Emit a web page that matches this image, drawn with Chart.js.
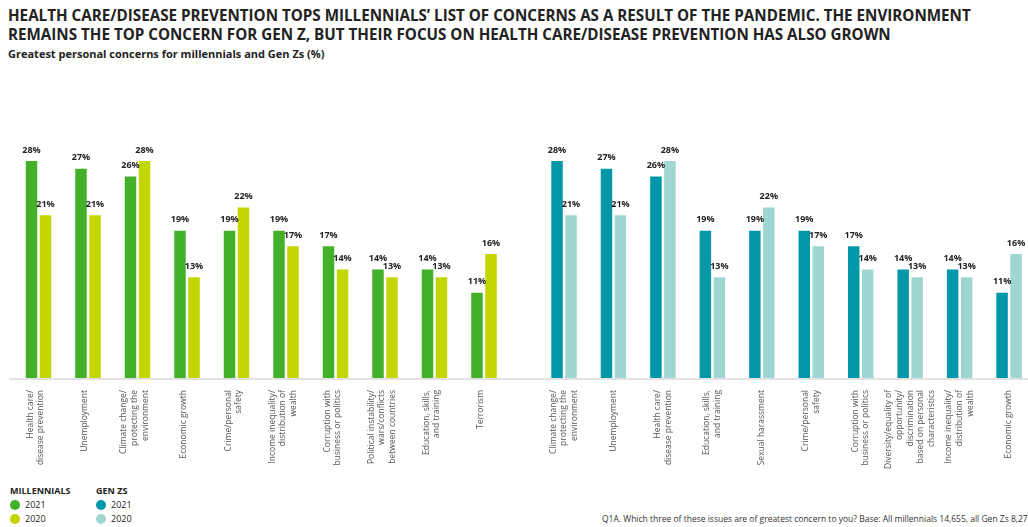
<!DOCTYPE html>
<html>
<head>
<meta charset="utf-8">
<script src="https://cdn.jsdelivr.net/npm/chart.js@4.4.1/dist/chart.umd.min.js"></script>
<style>
  body { margin: 0; width: 1028px; height: 527px; overflow: hidden; background: #fff;
         font-family: "Open Sans", sans-serif; color: #222; position: relative; }
  .title { position: absolute; left: 8px; top: 6px; font-size: 15.2px; font-weight: 700; line-height: 19px; white-space: nowrap; }
  .subtitle { position: absolute; left: 8px; top: 47px; font-size: 11px; font-weight: 700; line-height: 14px; white-space: nowrap; }
  canvas { position: absolute; top: 130px; }
  .lg-head { position: absolute; font-size: 9px; font-weight: 700; }
  .lg-item { position: absolute; font-size: 9px; line-height: 12px; white-space: nowrap; }
  .dot { display: inline-block; width: 10px; height: 10px; border-radius: 50%; vertical-align: -2px; margin-right: 5px; }
  .note { position: absolute; left: 602px; top: 513px; font-size: 8.5px; color: #333; white-space: nowrap; }
</style>
</head>
<body>
<div class="title">HEALTH CARE/DISEASE PREVENTION TOPS MILLENNIALS’ LIST OF CONCERNS AS A RESULT OF THE PANDEMIC. THE ENVIRONMENT<br>REMAINS THE TOP CONCERN FOR GEN Z, BUT THEIR FOCUS ON HEALTH CARE/DISEASE PREVENTION HAS ALSO GROWN</div>
<div class="subtitle">Greatest personal concerns for millennials and Gen Zs (%)</div>

<canvas id="millChart" width="520" height="350" style="left:0px"></canvas>
<canvas id="genzChart" width="520" height="350" style="left:520px"></canvas>

<div class="lg-head" style="left:10px; top:484px">MILLENNIALS</div>
<div class="lg-item" style="left:10px; top:499px"><span class="dot" style="background:#43B02A"></span>2021</div>
<div class="lg-item" style="left:10px; top:513px"><span class="dot" style="background:#C4D600"></span>2020</div>
<div class="lg-head" style="left:96px; top:484px">GEN ZS</div>
<div class="lg-item" style="left:96px; top:499px"><span class="dot" style="background:#0097A9"></span>2021</div>
<div class="lg-item" style="left:96px; top:513px"><span class="dot" style="background:#A0D6D1"></span>2020</div>

<div class="note">Q1A. Which three of these issues are of greatest concern to you? Base: All millennials 14,655, all Gen Zs 8,273</div>

<script>
// Millennials
const millCategories = [
    ['Health care/', 'disease prevention'],
    ['Unemployment'],
    ['Climate change/', 'protecting the', 'environment'],
    ['Economic growth'],
    ['Crime/personal', 'safety'],
    ['Income inequality/', 'distribution of', 'wealth'],
    ['Corruption with', 'business or politics'],
    ['Political instability/', 'wars/conflicts', 'between countries'],
    ['Education, skills,', 'and training'],
    ['Terrorism']
];
const mill2021 = [28, 27, 26, 19, 19, 19, 17, 14, 14, 11];
const mill2020 = [21, 21, 28, 13, 22, 17, 14, 13, 13, 16];

// Gen Zs
const genzCategories = [
    ['Climate change/', 'protecting the', 'environment'],
    ['Unemployment'],
    ['Health care/', 'disease prevention'],
    ['Education, skills,', 'and training'],
    ['Sexual harassment'],
    ['Crime/personal', 'safety'],
    ['Corruption with', 'business or politics'],
    ['Diversity/equality of', 'opportunity/', 'discrimination', 'based on personal', 'characteristics'],
    ['Income inequality/', 'distribution of', 'wealth'],
    ['Economic growth']
];
const genz2021 = [28, 27, 26, 19, 19, 19, 17, 14, 14, 11];
const genz2020 = [21, 21, 28, 13, 22, 17, 14, 13, 13, 16];

// value labels on top of bars
const valueLabels = {
    id: 'valueLabels',
    afterDatasetsDraw(chart) {
        const ctx = chart.ctx;
        ctx.save();
        ctx.font = 'bold 9px "Open Sans"';
        ctx.fillStyle = '#222';
        ctx.textAlign = 'center';
        ctx.textBaseline = 'middle';
        chart.data.datasets.forEach((ds, i) => {
            chart.getDatasetMeta(i).data.forEach((bar, j) => {
                ctx.fillText(ds.data[j] + '%', bar.x, bar.y - 11);
            });
        });
        ctx.restore();
    }
};

// baseline + rotated, centred category labels
const axisLabels = {
    id: 'axisLabels',
    beforeDatasetsDraw(chart, args, opts) {
        const ctx = chart.ctx;
        const y = chart.chartArea.bottom + 1;
        ctx.save();
        ctx.strokeStyle = '#e2e2e2';
        ctx.lineWidth = 2;
        ctx.beginPath();
        ctx.moveTo(opts.lineStart, y);
        ctx.lineTo(chart.width, y);
        ctx.stroke();
        ctx.restore();
    },
    afterDraw(chart, args, opts) {
        const ctx = chart.ctx;
        const xScale = chart.scales.x;
        const lh = 10.6;
        ctx.save();
        ctx.font = '8.5px "Open Sans"';
        ctx.fillStyle = '#555';
        ctx.textAlign = 'right';
        ctx.textBaseline = 'middle';
        chart.data.labels.forEach((lines, i) => {
            const cx = xScale.getPixelForValue(i) + opts.shift;
            const x0 = cx - (lines.length - 1) * lh / 2;
            lines.forEach((line, k) => {
                ctx.save();
                ctx.translate(x0 + k * lh, chart.chartArea.bottom + 12);
                ctx.rotate(-Math.PI / 2);
                ctx.fillText(line, 0, 0);
                ctx.restore();
            });
        });
        ctx.restore();
    }
};

function makeChart(id, categories, cur, prev, colCur, colPrev, pad, shift, lineStart) {
    return new Chart(document.getElementById(id), {
        type: 'bar',
        data: {
            labels: categories,
            datasets: [
                { label: '2021', data: cur, backgroundColor: colCur },
                { label: '2020', data: prev, backgroundColor: colPrev }
            ]
        },
        options: {
            responsive: false,
            animation: false,
            devicePixelRatio: 1,
            categoryPercentage: 0.566,
            barPercentage: 0.82,
            layout: { padding: pad },
            plugins: {
                legend: { display: false },
                tooltip: { enabled: false },
                axisLabels: { shift: shift, lineStart: lineStart }
            },
            scales: {
                x: { display: false },
                y: { display: false, min: 0, max: 30 }
            }
        },
        plugins: [axisLabels, valueLabels]
    });
}

makeChart('millChart', millCategories, mill2021, mill2020, '#43B02A', '#C4D600',
    { left: 13.75, right: 11.25, top: 15.5, bottom: 102 }, -3, 9);
makeChart('genzChart', genzCategories, genz2021, genz2020, '#0097A9', '#A0D6D1',
    { left: 19.3, right: 6.2, top: 15.5, bottom: 102 }, 0, 0);
</script>
</body>
</html>
